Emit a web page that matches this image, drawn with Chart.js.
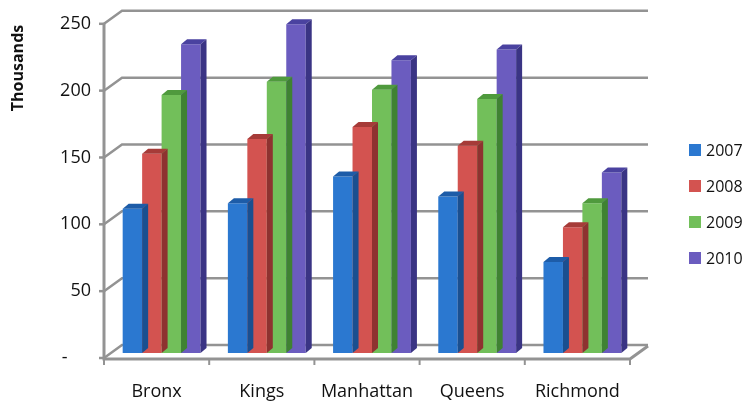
<!DOCTYPE html>
<html>
<head>
<meta charset="utf-8">
<script src="https://cdn.jsdelivr.net/npm/chart.js@4.4.1/dist/chart.umd.min.js"></script>
<style>
  html, body { margin: 0; padding: 0; background: #fff; }
  canvas { display: block; }
</style>
</head>
<body>
<canvas id="chartOne" width="748" height="404"></canvas>
<script>
// data (thousands)
const categories = ['Bronx', 'Kings', 'Manhattan', 'Queens', 'Richmond'];
const years = ['2007', '2008', '2009', '2010'];
const values2007 = [108, 112, 132, 117, 68];
const values2008 = [149, 160, 169, 155, 94];
const values2009 = [193, 203, 197, 190, 112];
const values2010 = [231, 246, 219, 227, 135];
const yTicks = [0, 50, 100, 150, 200, 250];

const frontColors = ['#2b78d0', '#d35350', '#72bf5a', '#6b5cbf'];
const topColors = ['#1d5ca8', '#a63b38', '#4f9a3d', '#4a42a0'];
const sideColors = ['#1a4f90', '#8e3230', '#3f8232', '#3a3484'];

const FONT = "'Open Sans', sans-serif";

//3d walls, bar faces, legend, axis title
const threeD = {
  id: 'threeD',
  beforeDatasetsDraw(chart) {
    const { ctx, chartArea: a, scales: { x, y } } = chart;
    const DX = 18, DY = 13;
    ctx.save();
    ctx.strokeStyle = '#939393';
    ctx.lineWidth = 2.5;
    ctx.lineCap = 'butt';
    yTicks.forEach((v) => {
      const py = y.getPixelForValue(v);
      ctx.beginPath();
      ctx.moveTo(a.left, py);
      ctx.lineTo(a.left + DX, py - DY);
      ctx.lineTo(a.right + DX, py - DY);
      ctx.stroke();
      ctx.beginPath();
      ctx.moveTo(a.left - 5, py);
      ctx.lineTo(a.left, py);
      ctx.stroke();
    });
    // front axis + floor edge
    ctx.lineWidth = 3;
    ctx.beginPath();
    ctx.moveTo(a.left, a.top);
    ctx.lineTo(a.left, a.bottom + 1);
    ctx.lineTo(a.right, a.bottom + 1);
    ctx.lineTo(a.right + DX, a.bottom + 1 - DY);
    ctx.stroke();
    // category tick marks
    const step = x.getPixelForValue(1) - x.getPixelForValue(0);
    ctx.lineWidth = 2;
    for (let i = 0; i <= categories.length; i++) {
      const px = x.getPixelForValue(0) - step / 2 + i * step;
      ctx.beginPath();
      ctx.moveTo(px, a.bottom + 1);
      ctx.lineTo(px, a.bottom + 7);
      ctx.stroke();
    }
    ctx.restore();
  },
  beforeDatasetDraw(chart) {
    chart.ctx.save();
    chart.ctx.translate(5, -5);
  },
  afterDatasetDraw(chart, args) {
    const ctx = chart.ctx;
    const i = args.index;
    const BX = 6, BY = 5;
    args.meta.data.forEach((el) => {
      const l = el.x - el.width / 2;
      const r = el.x + el.width / 2;
      const t = el.y;
      const b = el.base;
      ctx.fillStyle = topColors[i];
      ctx.beginPath();
      ctx.moveTo(l, t);
      ctx.lineTo(l + BX, t - BY);
      ctx.lineTo(r + BX, t - BY);
      ctx.lineTo(r, t);
      ctx.closePath();
      ctx.fill();
      ctx.fillStyle = sideColors[i];
      ctx.beginPath();
      ctx.moveTo(r, t);
      ctx.lineTo(r + BX, t - BY);
      ctx.lineTo(r + BX, b - BY);
      ctx.lineTo(r, b);
      ctx.closePath();
      ctx.fill();
    });
    ctx.restore();
  },
  afterDraw(chart) {
    const ctx = chart.ctx;
    ctx.save();
    // legend
    ctx.font = '16px ' + FONT;
    ctx.textBaseline = 'middle';
    ctx.textAlign = 'left';
    years.forEach((yr, i) => {
      const cy = 150 + i * 36;
      ctx.fillStyle = frontColors[i];
      ctx.fillRect(689, cy - 6, 12, 12);
      ctx.fillStyle = '#111';
      ctx.fillText(yr, 706, cy + 1);
    });
    // y title
    ctx.translate(18.5, 68);
    ctx.rotate(-Math.PI / 2);
    ctx.textAlign = 'center';
    ctx.font = 'bold 16px ' + FONT;
    ctx.fillStyle = '#111';
    ctx.fillText('Thousands', 0, 0);
    ctx.restore();
  },
};

const canvasOne = document.getElementById('chartOne');
const seriesValues = [values2007, values2008, values2009, values2010];

const configOne = {
  type: 'bar',
  data: {
    labels: categories,
    datasets: years.map((yr, i) => ({
      label: yr,
      data: seriesValues[i],
      backgroundColor: frontColors[i],
      borderWidth: 0,
      clip: false,
    })),
  },
  options: {
    responsive: false,
    animation: false,
    devicePixelRatio: 1,
    layout: { padding: { top: 18, right: 118, bottom: 0, left: 0 } },
    datasets: {
      bar: { categoryPercentage: 0.74, barPercentage: 1.0 },
    },
    plugins: {
      legend: { display: false },
      tooltip: { enabled: false },
    },
    scales: {
      x: {
        grid: { display: false, drawTicks: false },
        border: { display: false },
        ticks: {
          color: '#111',
          font: { family: FONT, size: 18 },
          padding: 23,
          maxRotation: 0,
        },
        afterFit(scale) {
          scale.height = 46;
        },
      },
      y: {
        min: 0,
        max: 250,
        grid: { display: false, drawTicks: false },
        border: { display: false },
        ticks: {
          stepSize: 50,
          color: '#111',
          font: { family: FONT, size: 18 },
          padding: 13,
          callback: (v) => (v === 0 ? '-     ' : v),
        },
        afterFit(scale) {
          scale.width = 104;
        },
      },
    },
  },
  plugins: [threeD],
};

const chartOne = new Chart(canvasOne, configOne);
</script>
</body>
</html>
